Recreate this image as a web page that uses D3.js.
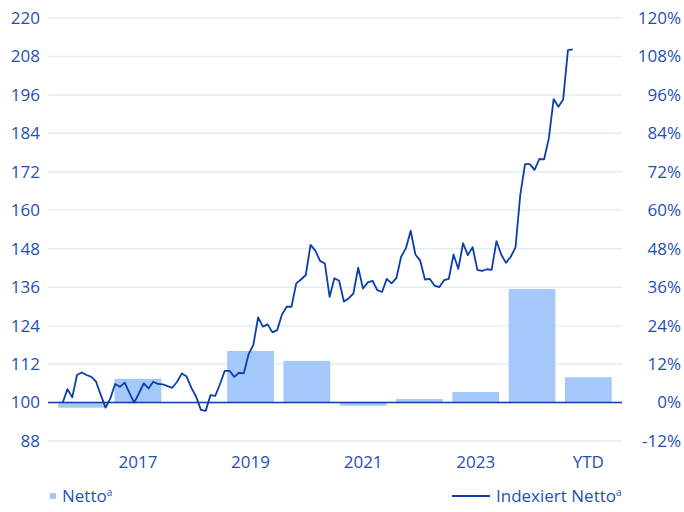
<!DOCTYPE html>
<html><head><meta charset="utf-8">
<script src="https://cdn.jsdelivr.net/npm/d3@7"></script>
<style>body{margin:0;background:#fff}svg{display:block}</style>
</head><body><svg id="c" width="684" height="512"></svg>
<script>
const categories = ["2016","2017","2018","2019","2020","2021","2022","2023","2024","YTD"];
const shownLabels = ["2017","2019","2021","2023","YTD"];
const nettoPct = [-1.6, 7.4, 0, 16.1, 13.0, -1.0, 1.1, 3.3, 35.4, 7.9];
const indexedNetto = [
 100,104.2,101.6,108.6,109.4,108.6,108,106.5,102.3,98.4,101.3,105.8,
 104.9,106.2,103,100,102.9,106,104.4,106.5,105.8,105.7,105.1,104.6,
 106.5,109.1,108.1,104.6,101.8,97.7,97.4,102.3,102.1,105.7,109.9,109.9,
 108,109.3,109.1,115.1,118,126.6,123.7,124.4,121.9,122.6,127.5,129.9,
 129.9,137.2,138.4,139.8,149.2,147.4,144.2,143.4,133,138.8,138,131.5,
 132.5,134.1,142.1,135.6,137.5,138,135.1,134.5,138.6,137.2,138.8,145.5,
 148.1,153.6,146.2,144.3,138.4,138.6,136.5,136,138.2,138.6,146.2,141.7,
 149.7,146,148.5,141.4,141.1,141.6,141.4,150.4,146.2,143.6,145.5,148.4,
 164.8,174.4,174.4,172.6,176,175.9,182.5,194.7,192.3,194.6,210,210.2
];
const leftTicks = [88,100,112,124,136,148,160,172,184,196,208,220];
const rightTicks = [-12,0,12,24,36,48,60,72,84,96,108,120];
const legendLabels = ["Netto", "Indexiert Netto"];

const textColor = "#1f4fb5", lineColor = "#0b3ea8", barColor = "#a3c8f9", gridColor = "#e2edfc";
const font = "'Open Sans', sans-serif";
const svg = d3.select("#c");
const plotTop = 18, plotBottom = 441, gridL = 48, gridR = 622;

const yL = d3.scaleLinear().domain([88,220]).range([plotBottom, plotTop]);
const yR = d3.scaleLinear().domain([-12,120]).range([plotBottom, plotTop]);
const xB = d3.scaleBand().domain(categories).range([53.5, 616.5]).paddingInner(0.17).paddingOuter(0.085);
const xL = d3.scaleLinear().domain([0, indexedNetto.length-1]).range([62.7, 572.7]);

// grid
svg.append("g").selectAll("line").data(leftTicks).join("line")
  .attr("x1", gridL).attr("x2", gridR).attr("y1", d=>yL(d)).attr("y2", d=>yL(d))
  .attr("stroke", gridColor).attr("stroke-width", 1.5);

// bars
svg.append("g").selectAll("rect").data(categories.map((c,i)=>({c, v:nettoPct[i]}))).join("rect")
  .attr("x", d=>xB(d.c)).attr("width", xB.bandwidth())
  .attr("y", d=>yR(Math.max(0,d.v))).attr("height", d=>Math.abs(yR(d.v)-yR(0)))
  .attr("fill", barColor);

// baseline
svg.append("line").attr("x1", gridL).attr("x2", gridR).attr("y1", yL(100)).attr("y2", yL(100))
  .attr("stroke", lineColor).attr("stroke-width", 1.6);

// line
svg.append("path").datum(indexedNetto)
  .attr("d", d3.line().x((d,i)=>xL(i)).y(d=>yL(d)))
  .attr("fill","none").attr("stroke", lineColor).attr("stroke-width", 1.8).attr("stroke-linejoin","round");

// axes
const axL = svg.append("g").attr("transform", "translate(40,0)")
  .call(d3.axisLeft(yL).tickValues(leftTicks).tickSize(0).tickPadding(0));
const axR = svg.append("g").attr("transform", "translate(681,0)")
  .call(d3.axisLeft(yR).tickValues(rightTicks).tickSize(0).tickPadding(0).tickFormat(d=>d+"%"));
const axB = svg.append("g").attr("transform", `translate(0,${plotBottom+15})`)
  .call(d3.axisBottom(xB).tickSize(0).tickPadding(0).tickFormat(d=>shownLabels.includes(d)?d:""));
[axL, axR, axB].forEach(a=>{
  a.select(".domain").remove();
  a.selectAll("text").attr("fill", textColor).style("font-family", font).style("font-size","17px");
});

// legend
const lg = svg.append("g");
lg.append("rect").attr("x", 50).attr("y", 493).attr("width", 6).attr("height", 6).attr("fill", barColor);
const t1 = lg.append("text").attr("x", 62).attr("y", 502).attr("fill", textColor)
  .style("font-family", font).style("font-size","17px").text(legendLabels[0]);
t1.append("tspan").attr("dy", -6).style("font-size","10px").text("a");
lg.append("line").attr("x1", 452).attr("x2", 490).attr("y1", 496).attr("y2", 496)
  .attr("stroke", lineColor).attr("stroke-width", 1.8);
const t2 = lg.append("text").attr("x", 496).attr("y", 502).attr("fill", textColor)
  .style("font-family", font).style("font-size","17px").text(legendLabels[1]);
t2.append("tspan").attr("dy", -6).style("font-size","10px").text("a");
</script></body></html>
